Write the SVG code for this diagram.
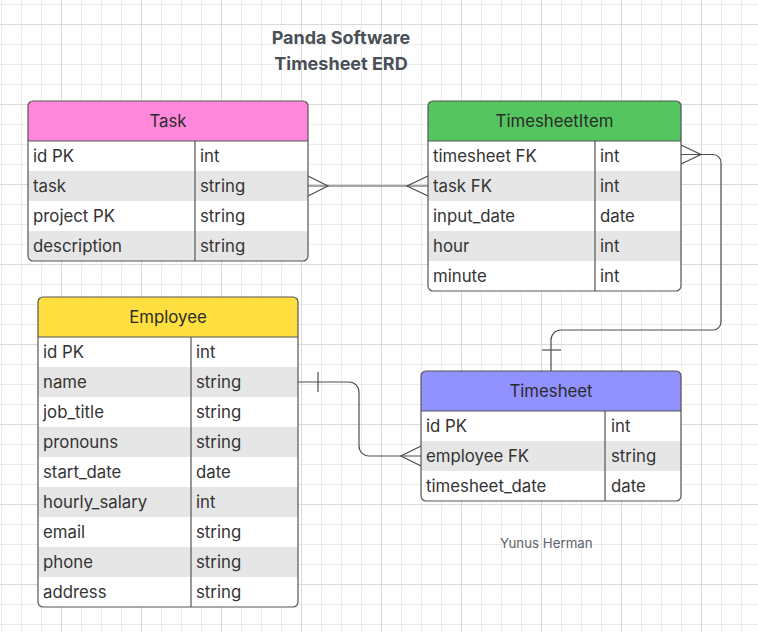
<svg xmlns="http://www.w3.org/2000/svg" width="758" height="632" viewBox="0 0 758 632">
<defs>
<pattern id="minor" x="1" y="4" width="20" height="20" patternUnits="userSpaceOnUse"><path d="M0.5 0V20M0 0.5H20" stroke="#ececec" stroke-width="1" fill="none"/></pattern>
<pattern id="major" x="61" y="24" width="80" height="80" patternUnits="userSpaceOnUse"><path d="M0.5 0V80M0 0.5H80" stroke="#dadada" stroke-width="1" fill="none"/></pattern>
<clipPath id="cTask"><rect x="28" y="101" width="280" height="160" rx="5"/></clipPath>
<clipPath id="cItem"><rect x="428" y="101" width="253" height="190" rx="5"/></clipPath>
<clipPath id="cEmp"><rect x="38" y="297" width="260" height="310" rx="5"/></clipPath>
<clipPath id="cTs"><rect x="421" y="371" width="260" height="130" rx="5"/></clipPath>
</defs>
<style>
text{font-family:Inter,"Noto Sans","Liberation Sans",sans-serif;}
.hd{font-size:16.8px;fill:#2b2b2b;text-anchor:middle;}
.tx{font-size:16.8px;fill:#333;}
.alt{fill:#e6e6e6;}
.wh{fill:#fff;}
.bd{fill:none;stroke:#555;stroke-width:1.2;}
.ln{stroke:#555;stroke-width:1.2;fill:none;}
.con{stroke:#4d4d4d;stroke-width:1.2;fill:none;}
.title{font-size:18px;font-weight:650;fill:#4a4f57;text-anchor:middle;}
</style>
<rect width="758" height="632" fill="#fff"/>
<rect width="758" height="632" fill="url(#minor)"/>
<rect width="758" height="632" fill="url(#major)"/>

<g id="title">
<text class="title" x="341" y="44">Panda Software</text>
<text class="title" x="341" y="70">Timesheet ERD</text>
</g>
<g id="author"><text x="500" y="548" style="font-size:13.3px;fill:#5f636a">Yunus Herman</text></g>

<g id="connectors">
<path class="con" d="M308 186H428"/>
<path class="con" d="M308 176L328 186L308 196"/>
<path class="con" d="M428 176L407 186L428 196"/>
<path class="con" d="M681 154.5H713A8 8 0 0 1 721 162.5V322A8 8 0 0 1 713 330H561A10 10 0 0 0 551 340V371"/>
<path class="con" d="M681 145L701 154.5L681 164"/>
<path class="con" d="M542 350H561"/>
<path class="con" d="M298 382H349A10 10 0 0 1 359 392V446A10 10 0 0 0 369 456H421"/>
<path class="con" d="M318 372V392"/>
<path class="con" d="M421 446L401 456L421 466"/>
</g>

<g id="task">
<g clip-path="url(#cTask)">
<rect x="28" y="101" width="280" height="40" fill="#ff88dc"/>
<rect class="wh" x="28" y="141" width="280" height="30"/>
<rect class="alt" x="28" y="171" width="280" height="30"/>
<rect class="wh" x="28" y="201" width="280" height="30"/>
<rect class="alt" x="28" y="231" width="280" height="30"/>
</g>
<path class="ln" d="M28 141H308M195 141V261"/>
<rect class="bd" x="28" y="101" width="280" height="160" rx="5"/>
<text class="hd" x="168" y="127">Task</text>
<text class="tx" x="33" y="162">id PK</text><text class="tx" x="200" y="162">int</text>
<text class="tx" x="33" y="192">task</text><text class="tx" x="200" y="192">string</text>
<text class="tx" x="33" y="222">project PK</text><text class="tx" x="200" y="222">string</text>
<text class="tx" x="33" y="252">description</text><text class="tx" x="200" y="252">string</text>
</g>

<g id="timesheetitem">
<g clip-path="url(#cItem)">
<rect x="428" y="101" width="253" height="40" fill="#55c55f"/>
<rect class="wh" x="428" y="141" width="253" height="30"/>
<rect class="alt" x="428" y="171" width="253" height="30"/>
<rect class="wh" x="428" y="201" width="253" height="30"/>
<rect class="alt" x="428" y="231" width="253" height="30"/>
<rect class="wh" x="428" y="261" width="253" height="30"/>
</g>
<path class="ln" d="M428 141H681M595 141V291"/>
<rect class="bd" x="428" y="101" width="253" height="190" rx="5"/>
<text class="hd" x="554.5" y="127">TimesheetItem</text>
<text class="tx" x="433" y="162">timesheet FK</text><text class="tx" x="600" y="162">int</text>
<text class="tx" x="433" y="192">task FK</text><text class="tx" x="600" y="192">int</text>
<text class="tx" x="433" y="222">input_date</text><text class="tx" x="600" y="222">date</text>
<text class="tx" x="433" y="252">hour</text><text class="tx" x="600" y="252">int</text>
<text class="tx" x="433" y="282">minute</text><text class="tx" x="600" y="282">int</text>
</g>

<g id="employee">
<g clip-path="url(#cEmp)">
<rect x="38" y="297" width="260" height="40" fill="#ffdf3f"/>
<rect class="wh" x="38" y="337" width="260" height="30"/>
<rect class="alt" x="38" y="367" width="260" height="30"/>
<rect class="wh" x="38" y="397" width="260" height="30"/>
<rect class="alt" x="38" y="427" width="260" height="30"/>
<rect class="wh" x="38" y="457" width="260" height="30"/>
<rect class="alt" x="38" y="487" width="260" height="30"/>
<rect class="wh" x="38" y="517" width="260" height="30"/>
<rect class="alt" x="38" y="547" width="260" height="30"/>
<rect class="wh" x="38" y="577" width="260" height="30"/>
</g>
<path class="ln" d="M38 337H298M191 337V607"/>
<rect class="bd" x="38" y="297" width="260" height="310" rx="5"/>
<text class="hd" x="168" y="323">Employee</text>
<text class="tx" x="43" y="358">id PK</text><text class="tx" x="196" y="358">int</text>
<text class="tx" x="43" y="388">name</text><text class="tx" x="196" y="388">string</text>
<text class="tx" x="43" y="418">job_title</text><text class="tx" x="196" y="418">string</text>
<text class="tx" x="43" y="448">pronouns</text><text class="tx" x="196" y="448">string</text>
<text class="tx" x="43" y="478">start_date</text><text class="tx" x="196" y="478">date</text>
<text class="tx" x="43" y="508">hourly_salary</text><text class="tx" x="196" y="508">int</text>
<text class="tx" x="43" y="538">email</text><text class="tx" x="196" y="538">string</text>
<text class="tx" x="43" y="568">phone</text><text class="tx" x="196" y="568">string</text>
<text class="tx" x="43" y="598">address</text><text class="tx" x="196" y="598">string</text>
</g>

<g id="timesheet">
<g clip-path="url(#cTs)">
<rect x="421" y="371" width="260" height="40" fill="#9191ff"/>
<rect class="wh" x="421" y="411" width="260" height="30"/>
<rect class="alt" x="421" y="441" width="260" height="30"/>
<rect class="wh" x="421" y="471" width="260" height="30"/>
</g>
<path class="ln" d="M421 411H681M605 411V501"/>
<rect class="bd" x="421" y="371" width="260" height="130" rx="5"/>
<text class="hd" x="551" y="397">Timesheet</text>
<text class="tx" x="426" y="432">id PK</text><text class="tx" x="611" y="432">int</text>
<text class="tx" x="426" y="462">employee FK</text><text class="tx" x="611" y="462">string</text>
<text class="tx" x="426" y="492">timesheet_date</text><text class="tx" x="611" y="492">date</text>
</g>
</svg>
